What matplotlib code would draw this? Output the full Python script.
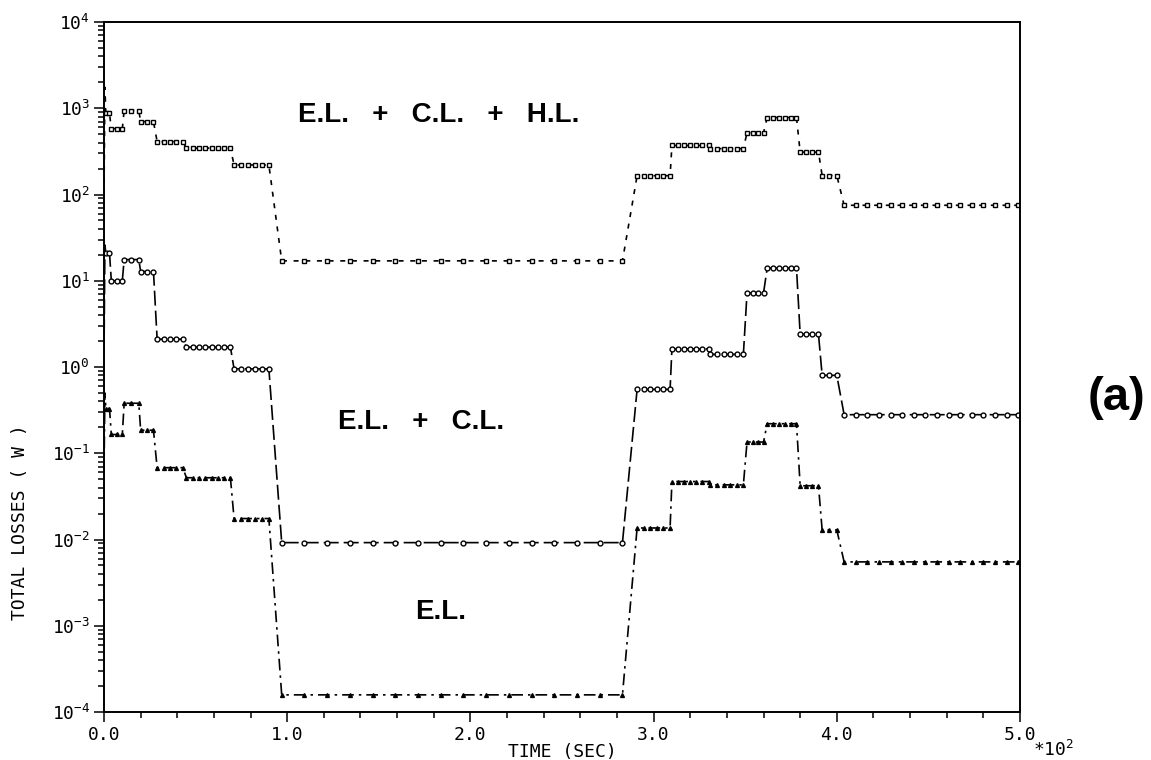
import numpy as np
import matplotlib.pyplot as plt
from matplotlib.ticker import FixedLocator, LogLocator, NullFormatter, FuncFormatter, MultipleLocator

# Loss curves ------------------------------------
# Time axis is in units of 1e2 s. All three curves share the same step schedule.
T_INIT = [0.0, 0.005]
STEP_START = [0.01, 0.04, 0.11, 0.20, 0.29, 0.45, 0.71, 0.97, 2.91, 3.10, 3.31, 3.51, 3.62, 3.80, 3.92, 4.04]
STEP_END = [0.03, 0.10, 0.19, 0.27, 0.43, 0.69, 0.90, 2.83, 3.09, 3.30, 3.49, 3.60, 3.78, 3.90, 4.00, 4.99]

ELCLHL_INIT = [100, 1750]
ELCLHL = [870, 580, 940, 700, 410, 345, 220, 17, 165, 370, 340, 520, 780, 310, 166, 75]
ELCL_INIT = [1.4, 26]
ELCL = [21, 10, 17.6, 12.8, 2.1, 1.7, 0.95, 0.0092, 0.55, 1.62, 1.4, 7.2, 14, 2.4, 0.8, 0.28]
EL_INIT = [0.06, 0.5]
EL = [0.33, 0.165, 0.38, 0.185, 0.068, 0.052, 0.0175, 0.000158, 0.0136, 0.047, 0.043, 0.135, 0.22, 0.042, 0.0129, 0.0055]

X_TICKS = [0, 1, 2, 3, 4, 5]
Y_EXPONENTS = [-4, -3, -2, -1, 0, 1, 2, 3, 4]
# -----------------------------------------------

plt.rcParams['font.family'] = 'DejaVu Sans Mono'
plt.rcParams['mathtext.default'] = 'regular'


def step_path(t_init, v_init, levels):
	# polyline through the initial transient and both ends of every step
	t = list(t_init)
	v = list(v_init)
	for t0, t1, lev in zip(STEP_START, STEP_END, levels):
		t += [t0, t1]
		v += [lev, lev]
	return t, v


def step_marks(levels, spacing=0.035, n_max=16):
	# plotting symbols sitting on each flat step
	t, v = [], []
	for t0, t1, lev in zip(STEP_START, STEP_END, levels):
		n = int(min(n_max, round((t1 - t0) / spacing) + 1))
		n = max(n, 2)
		t += list(np.linspace(t0, t1, n))
		v += [lev] * n
	return t, v


fig = plt.figure(figsize=(11.51, 7.60), dpi=100)
ax = fig.add_axes([104/1151, 1 - 712/760, 916/1151, 690/760])

curves = [
	(ELCLHL_INIT, ELCLHL, (0, (3, 4)), 's', 'white', 3.5),
	(ELCL_INIT, ELCL, (0, (9, 3)), 'o', 'white', 3.5),
	(EL_INIT, EL, (0, (7, 3, 1.5, 3)), '^', 'black', 2.8),
]
for init, levels, ls, mk, mfc, ms in curves:
	t, v = step_path(T_INIT, init, levels)
	ax.plot(t, v, color='black', lw=1.2, linestyle=ls)
	tm, vm = step_marks(levels)
	ax.plot(tm, vm, linestyle='none', marker=mk, markersize=ms, markerfacecolor=mfc,
		markeredgecolor='black', markeredgewidth=1.0)

ax.set_yscale('log')
ax.set_ylim(1e-4, 1e4)
ax.set_xlim(0, 5)

ax.yaxis.set_major_locator(FixedLocator([10.0**e for e in Y_EXPONENTS]))
ax.yaxis.set_major_formatter(FuncFormatter(lambda y, pos: r'$10^{%d}$' % round(np.log10(y))))
ax.yaxis.set_minor_locator(LogLocator(base=10, subs=np.arange(2, 10), numticks=20))
ax.yaxis.set_minor_formatter(NullFormatter())
ax.xaxis.set_major_locator(FixedLocator(X_TICKS))
ax.xaxis.set_major_formatter(FuncFormatter(lambda x, pos: '%.1f' % x))
ax.xaxis.set_minor_locator(MultipleLocator(0.2))

ax.tick_params(which='both', direction='out', top=False, right=False, labelsize=13, width=1.1)
ax.tick_params(which='major', length=7, pad=3)
ax.tick_params(which='minor', length=4)
for s in ax.spines.values():
	s.set_linewidth(1.4)

fig.text(562/1151, 1 - 752/760, 'TIME (SEC)', ha='center', va='center', fontsize=13)
fig.text(20/1151, 1 - 522/760, 'TOTAL LOSSES ( W )', ha='center', va='center', rotation=90, fontsize=13)
fig.text(1033/1151, 1 - 750/760, r'$*10^{2}$', ha='left', va='center', fontsize=13)

lab = dict(transform=ax.transAxes, family='Liberation Sans', fontweight='bold', fontsize=20, va='center', ha='left')
ax.text(0.212, 0.865, 'E.L.   +   C.L.   +   H.L.', **lab)
ax.text(0.255, 0.42, 'E.L.   +   C.L.', **lab)
ax.text(0.34, 0.145, 'E.L.', **lab)
fig.text(1117/1151, 1 - 398/760, '(a)', family='Liberation Sans', fontweight='bold', fontsize=34,
	ha='center', va='center')

fig.savefig('out.png', dpi=100)
